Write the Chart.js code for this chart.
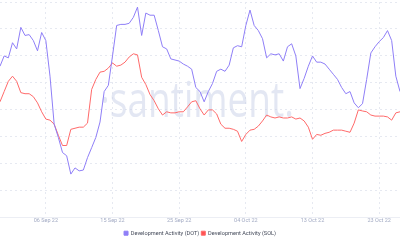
<!DOCTYPE html>
<html>
<head>
<meta charset="utf-8">
<script src="https://cdn.jsdelivr.net/npm/chart.js@4"></script>
<style>
  html, body { margin: 0; padding: 0; background: #fff; }
  #wrap { width: 400px; height: 240px; }
</style>
</head>
<body>
<div id="wrap"><canvas id="chart"></canvas></div>
<script>
// Development Activity, DOT vs SOL
const dotValues = [
  56.2, 60.0, 59.3, 64.9, 62.6, 70.6, 67.6, 67.9, 65.7, 61.9,
  68.7, 65.7, 52.5, 34.7, 29.8, 24.2, 23.0, 16.2, 18.5, 17.4,
  17.7, 22.3, 26.0, 29.8, 35.5, 46.8, 49.1, 60.0, 71.3, 71.7,
  71.7, 72.1, 74.3, 78.1, 67.6, 75.9, 75.1, 75.1, 69.4, 63.4,
  62.6, 58.9, 58.5, 58.1, 57.0, 56.2, 55.1, 48.3, 46.8, 43.0,
  46.8, 49.8, 54.3, 55.1, 54.3, 56.6, 63.0, 63.8, 63.4, 71.3,
  77.0, 71.3, 69.4, 66.4, 59.3, 60.8, 60.4, 60.8, 58.1, 63.4,
  64.5, 60.0, 47.9, 51.7, 56.2, 60.0, 57.7, 57.7, 57.0, 55.1,
  53.2, 51.3, 48.3, 46.0, 46.8, 42.6, 40.8, 42.3, 51.3, 61.1,
  63.4, 65.3, 66.8, 69.4, 65.7, 52.5, 46.8
];
const solValues = [
  43.0, 46.8, 50.6, 52.5, 50.6, 46.4, 46.0, 46.0, 44.9, 42.6,
  39.3, 36.6, 36.2, 34.7, 30.6, 26.8, 26.8, 32.8, 33.2, 33.6,
  33.6, 35.1, 47.6, 51.3, 54.0, 54.3, 55.5, 57.4, 56.2, 56.6,
  57.7, 59.6, 60.8, 60.4, 52.1, 49.4, 45.7, 43.4, 40.4, 38.1,
  39.3, 38.9, 38.9, 39.3, 39.3, 41.1, 43.0, 43.4, 40.4, 38.1,
  40.0, 40.0, 38.5, 34.7, 33.2, 33.2, 32.8, 32.1, 28.3, 30.9,
  32.5, 32.8, 34.0, 35.9, 38.1, 37.4, 37.0, 37.4, 37.0, 37.0,
  37.4, 36.6, 37.0, 35.9, 33.6, 29.1, 30.9, 30.6, 31.3, 31.7,
  32.5, 32.5, 32.5, 32.1, 31.7, 35.1, 40.0, 39.6, 39.3, 38.1,
  37.7, 37.7, 37.7, 37.4, 36.2, 38.9, 39.3
];
// posiciones de las fechas en el eje x (índice de muestra)
const tickPositions = [11, 27, 43, 59, 75, 91];
const tickLabels = ['06 Sep 22', '15 Sep 22', '25 Sep 22', '04 Oct 22', '13 Oct 22', '23 Oct 22'];
const seriesNames = ['Development Activity (DOT)', 'Development Activity (SOL)'];

const toPoints = (arr) => arr.map((v, i) => ({ x: i, y: v }));

// marca de agua "santiment" detrás de las líneas
const watermark = {
  id: 'watermark',
  beforeDatasetsDraw(chart) {
    const { ctx, chartArea } = chart;
    const cx = (chartArea.left + chartArea.right) / 2;
    ctx.save();
    ctx.fillStyle = 'rgba(200, 208, 232, 0.5)';
    ctx.textAlign = 'center';
    ctx.textBaseline = 'alphabetic';
    ctx.translate(cx - 3, 117);
    ctx.scale(1, 1.35);
    ctx.font = '37px "Open Sans", sans-serif';
    ctx.fillText('·santiment.', 0, 0);
    ctx.restore();
  }
};

new Chart(document.getElementById('chart').getContext('2d'), {
  type: 'line',
  data: {
    datasets: [
      {
        label: seriesNames[0],
        data: toPoints(dotValues),
        borderColor: '#8f7ff7',
        backgroundColor: '#8f7ff7',
        borderWidth: 1,
        pointRadius: 0,
        tension: 0
      },
      {
        label: seriesNames[1],
        data: toPoints(solValues),
        borderColor: '#ff6a6a',
        backgroundColor: '#ff5252',
        borderWidth: 1,
        pointRadius: 0,
        tension: 0
      }
    ]
  },
  options: {
    responsive: true,
    maintainAspectRatio: false,
    animation: false,
    layout: { padding: { top: 2, left: 0, right: 0, bottom: -6 } },
    plugins: {
      legend: {
        position: 'bottom',
        // título vacío: sólo deja un hueco sobre la leyenda
        title: { display: true, text: ' ', padding: 0, font: { size: 4, lineHeight: 1 } },
        labels: {
          boxWidth: 4,
          boxHeight: 4,
          padding: 2,
          color: '#444a5a',
          font: { size: 5.6, family: 'Roboto, sans-serif' }
        }
      },
      tooltip: { enabled: false }
    },
    scales: {
      x: {
        type: 'linear',
        min: 0,
        max: 96,
        afterBuildTicks(axis) {
          axis.ticks = tickPositions.map((v) => ({ value: v }));
        },
        ticks: {
          padding: 0,
          color: '#a3abc4',
          font: { size: 5.5, family: 'Roboto, sans-serif' },
          maxRotation: 0,
          autoSkip: false,
          callback(value) {
            const k = tickPositions.indexOf(value);
            return k >= 0 ? tickLabels[k] : '';
          }
        },
        grid: {
          color: '#e6e9f1',
          drawTicks: false
        },
        border: { color: '#eceef4', dash: [2, 3] }
      },
      y: {
        min: 0,
        max: 80,
        ticks: { display: false, stepSize: 10 },
        grid: { color: '#e6e9f1', drawTicks: false },
        border: { display: false, dash: [2, 3] }
      }
    }
  },
  plugins: [watermark]
});
</script>
</body>
</html>
